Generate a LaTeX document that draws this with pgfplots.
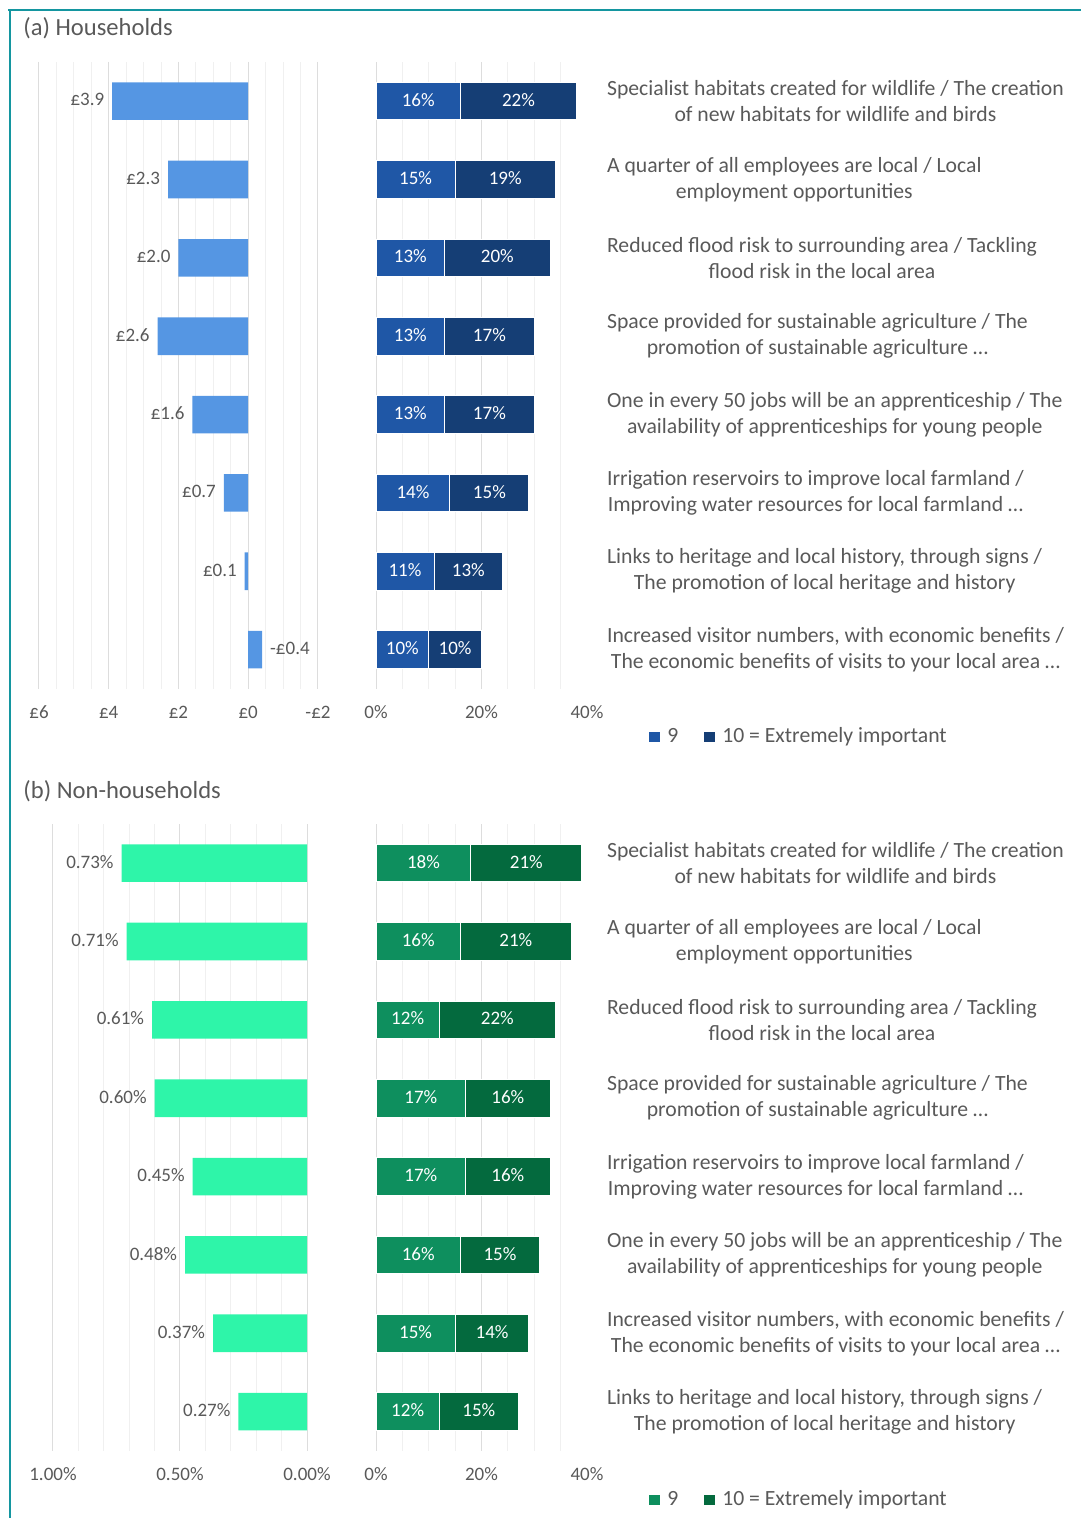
\documentclass[border=0pt]{standalone}
\usepackage{pgfplots}
\pgfplotsset{compat=1.18}
\usepackage{pgfplotstable}
\usepackage{fontspec}
\setmainfont{Carlito}

\definecolor{txt}{HTML}{595959}
\definecolor{gmaj}{HTML}{DDDDDD}
\definecolor{gmin}{HTML}{F0F0F0}
\definecolor{frame}{HTML}{1496A0}
\definecolor{hhleft}{HTML}{5596E3}
\definecolor{hhnine}{HTML}{1F57A6}
\definecolor{hhten}{HTML}{153E75}
\definecolor{nhleft}{HTML}{2EF5A9}
\definecolor{nhnine}{HTML}{0E8F5E}
\definecolor{nhten}{HTML}{046A3E}

\pgfplotstableread{
y v lab a b
1 3.9 £3.9 16 22
2 2.3 £2.3 15 19
3 2.0 £2.0 13 20
4 2.6 £2.6 13 17
5 1.6 £1.6 13 17
6 0.7 £0.7 14 15
7 0.1 £0.1 11 13
8 -0.4 -£0.4 10 10
}\hh

\pgfplotstableread{
y v lab a b
1 0.73 0.73 18 21
2 0.71 0.71 16 21
3 0.61 0.61 12 22
4 0.60 0.60 17 16
5 0.45 0.45 17 16
6 0.48 0.48 16 15
7 0.37 0.37 15 14
8 0.27 0.27 12 15
}\nh

\newcommand{\ticksize}{\fontsize{9.5}{11}\selectfont}
\newcommand{\catsize}{\fontsize{10.85}{13}\selectfont}
\newcommand{\dotsx}{\ldots}
% zero-size, vertically centred label
\newcommand{\lab}[2]{\smash{\makebox[0pt][#1]{\raisebox{-0.5\height}{#2}}}}

\pgfplotsset{
  common/.style={
    scale only axis,
    height=313.4pt,
    ymin=0.5, ymax=8.5, y dir=reverse,
    axis line style={draw=none},
    major tick length=0pt, minor tick length=0pt,
    xmajorgrids, xminorgrids,
    major grid style={gmaj, line width=0.5pt},
    minor grid style={gmin, line width=0.5pt},
    tick label style={font=\ticksize, text=txt},
    xticklabel style={yshift=-5pt},
    ytick=\empty,
    clip=false,
  },
  barlab/.style={
    xbar, bar shift=0pt, bar width=18.8pt, draw=none, fill=none,
    point meta=explicit symbolic,
    every node near coord/.append style={inner sep=0pt, font=\ticksize},
  },
  legsq/.style={
    legend image code/.code={\fill[##1, draw=none] (0pt,-2.6pt) rectangle (5.2pt,2.6pt);
      \path[draw=none, fill=none] (0pt,0pt) rectangle (7pt,0.1pt);},
  },
  midaxis/.style={
    common, width=105.5pt,
    xmin=0, xmax=40, xtick={0,20}, xticklabels={0\%,20\%},
    extra x ticks={40}, extra x tick labels={40\%},
    extra x tick style={grid=none},
    minor xtick={5,10,15,25,30,35},
    ytick={1,2,3,4,5,6,7,8}, yticklabel pos=right,
    yticklabel style={anchor=west, align=center, font=\catsize, text=txt, xshift=6.5pt},
    legsq,
    legend columns=2,
    legend style={draw=none, fill=none, font=\catsize, text=txt, anchor=center,
      /tikz/every even column/.append style={column sep=11pt}},
  },
}

\begin{document}
\begin{tikzpicture}
\useasboundingbox (0pt,0pt) rectangle (540.5pt,-759pt);
% frame
\draw[frame, line width=1.1pt] (4pt,-5pt) -- (540.5pt,-5pt);
\draw[frame, line width=1.1pt] (4.8pt,-5pt) -- (4.8pt,-759pt);
\node[anchor=base west, inner sep=0pt, font=\fontsize{12.3}{14}\selectfont, text=txt] at (11.5pt,-18pt) {(a) Households};
\node[anchor=base west, inner sep=0pt, font=\fontsize{12.3}{14}\selectfont, text=txt] at (11.5pt,-399.2pt) {(b) Non-households};

% ---------- (a) left
\begin{axis}[common, at={(19.5pt,-31pt)}, anchor=north west, width=139.5pt,
  xmin=-2, xmax=6, x dir=reverse, xtick={-2,0,2,4,6},
  xticklabels={-£2,£0,£2,£4,£6}, minor tick num=3]
\addplot[xbar, bar shift=0pt, bar width=18.8pt, fill=hhleft, draw=none] table[x=v,y=y]{\hh};
\addplot[barlab, restrict x to domain=0:10,
  nodes near coords={\lab{r}{\color{txt}\pgfplotspointmeta\hspace{4pt}}}]
  table[x=v,y=y,meta=lab]{\hh};
\addplot[barlab, restrict x to domain=-10:0,
  nodes near coords={\lab{l}{\color{txt}\hspace{4pt}\pgfplotspointmeta}}]
  table[x=v,y=y,meta=lab]{\hh};
\end{axis}

% ---------- (a) middle
\begin{axis}[midaxis, at={(188pt,-31pt)}, anchor=north west,
  yticklabels={
    {Specialist habitats created for wildlife / The creation\\of new habitats for wildlife and birds},
    {A quarter of all employees are local / Local\\employment opportunities},
    {Reduced flood risk to surrounding area / Tackling\\flood risk in the local area},
    {Space provided for sustainable agriculture / The\\promotion of sustainable agriculture \dotsx},
    {One in every 50 jobs will be an apprenticeship / The\\availability of apprenticeships for young people},
    {Irrigation reservoirs to improve local farmland /\\Improving water resources for local farmland \dotsx},
    {Links to heritage and local history, through signs /\\The promotion of local heritage and history},
    {Increased visitor numbers, with economic benefits /\\The economic benefits of visits to your local area \dotsx}},
  legend style={at={(rel axis cs:2.0095,-0.0766)}}]
\addplot[xbar, bar shift=0pt, bar width=18.8pt, fill=hhten, draw=white, line width=0.5pt, forget plot]
  table[x expr=\thisrow{a}+\thisrow{b}, y=y]{\hh};
\addplot[xbar, bar shift=0pt, bar width=18.8pt, fill=hhnine, draw=white, line width=0.5pt, forget plot]
  table[x=a, y=y]{\hh};
\addplot[barlab, forget plot,
  nodes near coords={\lab{c}{\color{white}\pgfplotspointmeta\%}}]
  table[x expr=\thisrow{a}/2, y=y, meta=a]{\hh};
\addplot[barlab, forget plot,
  nodes near coords={\lab{c}{\color{white}\pgfplotspointmeta\%}}]
  table[x expr=\thisrow{a}+\thisrow{b}/2, y=y, meta=b]{\hh};
\addlegendimage{fill=hhnine, draw=none}
\addlegendentry{9}
\addlegendimage{fill=hhten, draw=none}
\addlegendentry{10 = Extremely important}
\end{axis}

% ---------- (b) left
\begin{axis}[common, at={(26.5pt,-412pt)}, anchor=north west, width=127pt,
  xmin=0, xmax=1, x dir=reverse, xtick={0,0.5,1},
  xticklabels={0.00\%,0.50\%,1.00\%}, minor tick num=4]
\addplot[xbar, bar shift=0pt, bar width=18.8pt, fill=nhleft, draw=none] table[x=v,y=y]{\nh};
\addplot[barlab,
  nodes near coords={\lab{r}{\color{txt}\pgfplotspointmeta\%\hspace{4pt}}}]
  table[x=v,y=y,meta=lab]{\nh};
\end{axis}

% ---------- (b) middle
\begin{axis}[midaxis, at={(188pt,-412pt)}, anchor=north west,
  yticklabels={
    {Specialist habitats created for wildlife / The creation\\of new habitats for wildlife and birds},
    {A quarter of all employees are local / Local\\employment opportunities},
    {Reduced flood risk to surrounding area / Tackling\\flood risk in the local area},
    {Space provided for sustainable agriculture / The\\promotion of sustainable agriculture \dotsx},
    {Irrigation reservoirs to improve local farmland /\\Improving water resources for local farmland \dotsx},
    {One in every 50 jobs will be an apprenticeship / The\\availability of apprenticeships for young people},
    {Increased visitor numbers, with economic benefits /\\The economic benefits of visits to your local area \dotsx},
    {Links to heritage and local history, through signs /\\The promotion of local heritage and history}},
  legend style={at={(rel axis cs:2.0095,-0.0783)}}]
\addplot[xbar, bar shift=0pt, bar width=18.8pt, fill=nhten, draw=white, line width=0.5pt, forget plot]
  table[x expr=\thisrow{a}+\thisrow{b}, y=y]{\nh};
\addplot[xbar, bar shift=0pt, bar width=18.8pt, fill=nhnine, draw=white, line width=0.5pt, forget plot]
  table[x=a, y=y]{\nh};
\addplot[barlab, forget plot,
  nodes near coords={\lab{c}{\color{white}\pgfplotspointmeta\%}}]
  table[x expr=\thisrow{a}/2, y=y, meta=a]{\nh};
\addplot[barlab, forget plot,
  nodes near coords={\lab{c}{\color{white}\pgfplotspointmeta\%}}]
  table[x expr=\thisrow{a}+\thisrow{b}/2, y=y, meta=b]{\nh};
\addlegendimage{fill=nhnine, draw=none}
\addlegendentry{9}
\addlegendimage{fill=nhten, draw=none}
\addlegendentry{10 = Extremely important}
\end{axis}
\end{tikzpicture}
\end{document}
